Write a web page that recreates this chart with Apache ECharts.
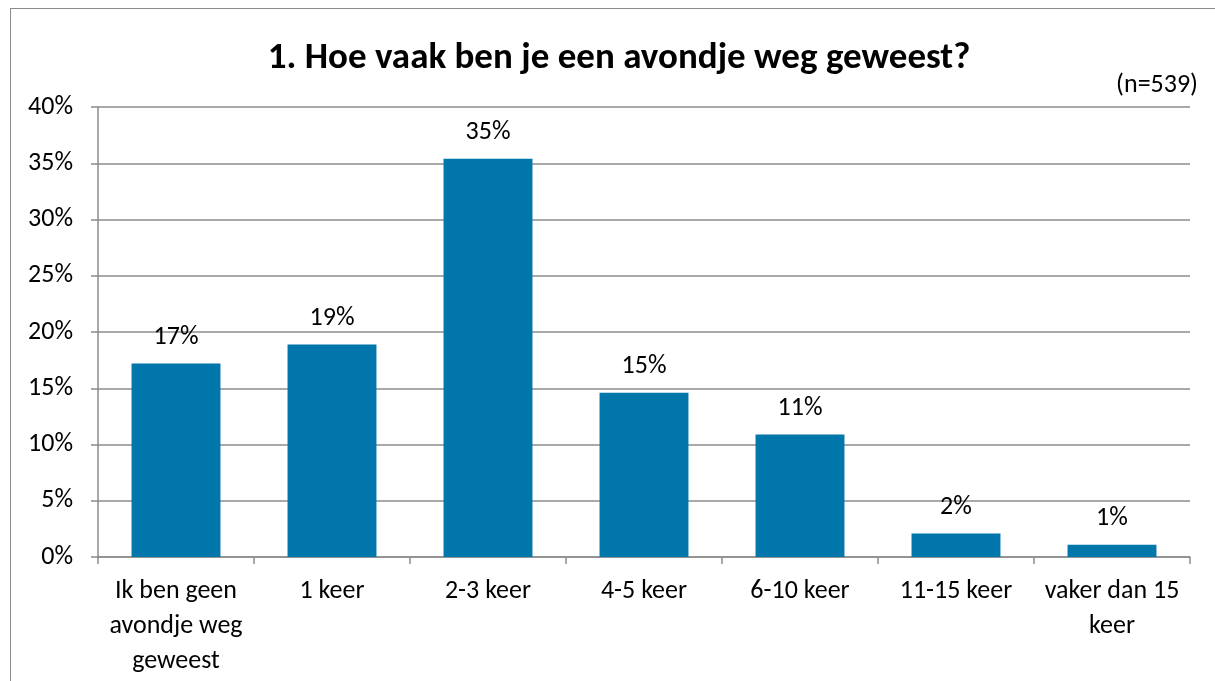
<!DOCTYPE html>
<html>
<head>
<meta charset="utf-8">
<script src="https://cdn.jsdelivr.net/npm/echarts@6/dist/echarts.min.js"></script>
<style>
  html, body { margin: 0; padding: 0; background: #fff; }
  #frame { position: absolute; left: 10px; top: 8px; width: 1230px; height: 700px; border: 1.5px solid #8c8c8c; }
  #chart { position: absolute; left: 0; top: 0; width: 1215px; height: 681px; }
</style>
</head>
<body>
<div id="frame"></div>
<div id="chart"></div>
<script>
// categories and values
const categories = ['Ik ben geen\navondje weg\ngeweest', '1 keer', '2-3 keer', '4-5 keer', '6-10 keer', '11-15 keer', 'vaker dan 15\nkeer'];
const values = [17.2, 18.9, 35.4, 14.6, 10.9, 2.1, 1.1];
const labels = ['17%', '19%', '35%', '15%', '11%', '2%', '1%'];
const yTicks = [0, 5, 10, 15, 20, 25, 30, 35, 40];

const font = 'Carlito, "Open Sans", "Noto Sans", sans-serif';
const chart = echarts.init(document.getElementById('chart'), null, { renderer: 'canvas' });

chart.setOption({
  animation: false,
  title: {
    text: '1. Hoe vaak ben je een avondje weg geweest?',
    left: 614,
    textAlign: 'center',
    top: 35,
    textStyle: { fontFamily: font, fontSize: 37, fontWeight: 'bold', color: '#000' }
  },
  graphic: [{
    type: 'text',
    right: 17,
    top: 72,
    style: { text: '(n=539)', fontFamily: font, fontSize: 26, fill: '#000' }
  }],
  grid: { left: 98, right: 25, top: 107, bottom: 124 },
  xAxis: {
    type: 'category',
    data: categories,
    axisLine: { lineStyle: { color: '#8c8c8c', width: 1.5 } },
    axisTick: { show: true, alignWithLabel: false, length: 7, lineStyle: { color: '#8c8c8c', width: 1.5 } },
    axisLabel: { fontFamily: font, fontSize: 26, color: '#000', margin: 17, lineHeight: 35, interval: 0 }
  },
  yAxis: {
    type: 'value',
    min: yTicks[0],
    max: yTicks[yTicks.length - 1],
    interval: 5,
    axisLine: { show: true, lineStyle: { color: '#8c8c8c', width: 1.5 } },
    axisTick: { show: true, length: 7, lineStyle: { color: '#8c8c8c', width: 1.5 } },
    splitLine: { lineStyle: { color: '#8c8c8c', width: 1.5 } },
    axisLabel: { fontFamily: font, fontSize: 26, color: '#000', margin: 25, formatter: v => v + '%' }
  },
  series: [{
    type: 'bar',
    data: values,
    barWidth: '57%',
    itemStyle: { color: '#0076ab' },
    label: {
      show: true,
      position: 'top',
      distance: 13,
      fontFamily: font,
      fontSize: 26,
      color: '#000',
      formatter: p => labels[p.dataIndex]
    }
  }]
});
</script>
</body>
</html>
